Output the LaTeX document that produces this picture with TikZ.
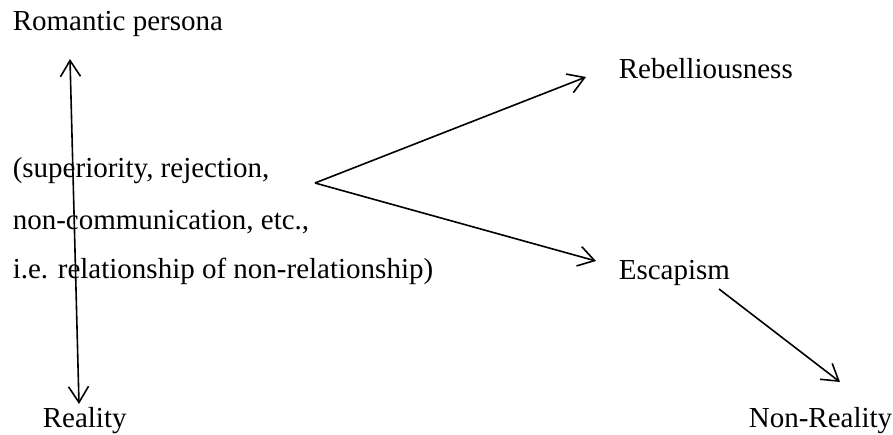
\documentclass[tikz,border=0pt]{standalone}
\usepackage{fontspec}
\setmainfont{Liberation Serif}
\usetikzlibrary{arrows.meta}
\begin{document}
\begin{tikzpicture}[x=.5pt,y=-.5pt,line width=.8pt,>={Straight Barb[length=8pt,width=10pt]},
    every node/.style={inner sep=0pt,anchor=base west,font=\fontsize{14.5}{17}\selectfont}]
\useasboundingbox (0,0) rectangle (893,434);

\node (persona) at (12,30){Romantic persona};
\foreach \y/\n/\ytext in {177/l1/{(superiority, rejection,}, 229/l2/{non-communication, etc.,}, 278/l3/{i.e. relationship of non-relationship)}}
{
    \node (\n) at (12,\y){\ytext};
}
\node (rebel) at (618,78){Rebelliousness};
\node (escape) at (618,279){Escapism};
\node (reality) at (42,427){Reality};
\node (nonreal) at (748,427){Non-Reality};

\coordinate (up) at (70,59);
\coordinate (down) at (79,404);
\coordinate (fork) at (315,183);
\coordinate (rebtip) at (586,77);
\coordinate (esctip) at (596,261);
\coordinate (escout) at (719,289);
\coordinate (nrtip) at (840,382);

\draw[<->](up)--(down);
\draw[->](fork)--(rebtip);
\draw[->](fork)--(esctip);
\draw[->](escout)--(nrtip);
\end{tikzpicture}
\end{document}
